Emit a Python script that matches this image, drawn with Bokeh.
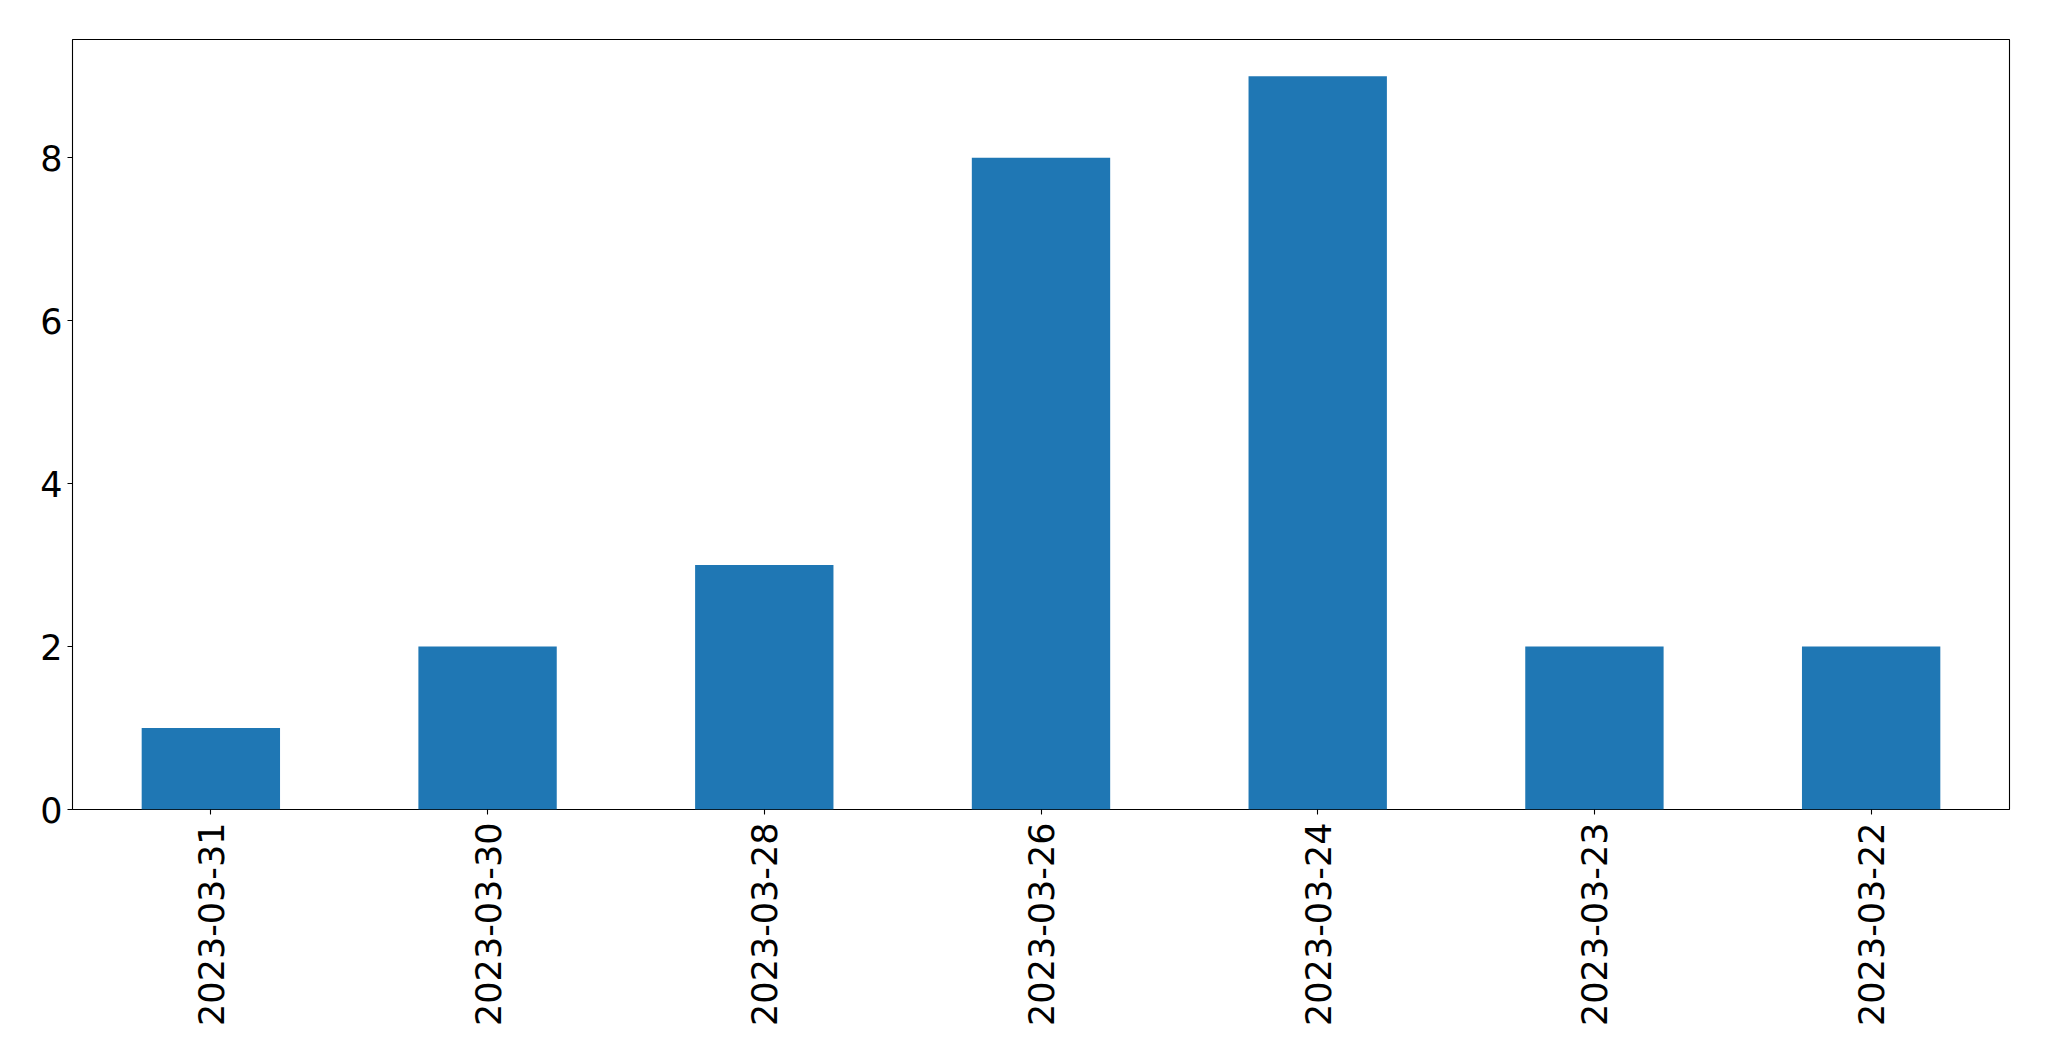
import math
from bokeh.plotting import figure
from bokeh.models import FactorRange, Range1d, FixedTicker, ColumnDataSource
from bokeh.embed import file_html
from bokeh.resources import INLINE

dates = ["2023-03-31", "2023-03-30", "2023-03-28", "2023-03-26", "2023-03-24", "2023-03-23", "2023-03-22"]
counts = [1, 2, 3, 8, 9, 2, 2]
y_ticks = [0, 2, 4, 6, 8]

src = ColumnDataSource(data=dict(date=dates, count=counts))

p = figure(width=2041, height=1053, output_backend="svg", toolbar_location=None,
           x_range=FactorRange(factors=dates, range_padding=0),
           y_range=Range1d(0, 9.45),
           min_border_left=72, min_border_top=39, min_border_right=32, min_border_bottom=244)

p.vbar(x="date", top="count", width=0.5, source=src, fill_color="#1f77b4", line_color=None)

p.grid.visible = False
p.outline_line_color = "black"
p.outline_line_width = 1.1
p.outline_line_alpha = 1.0

for ax in (p.xaxis[0], p.yaxis[0]):
    ax.axis_line_color = None
    ax.major_tick_line_color = "black"
    ax.major_tick_line_width = 1.1
    ax.major_tick_out = 5
    ax.major_tick_in = 0
    ax.minor_tick_line_color = None
    ax.major_label_text_font = "DejaVu Sans"
    ax.major_label_text_font_size = "35px"
    ax.major_label_text_color = "black"

p.yaxis[0].ticker = FixedTicker(ticks=y_ticks)
p.yaxis[0].major_label_standoff = 5
p.xaxis[0].major_label_orientation = math.pi / 2
p.xaxis[0].major_label_standoff = 8

open("out.html", "w").write(file_html(p, INLINE))
